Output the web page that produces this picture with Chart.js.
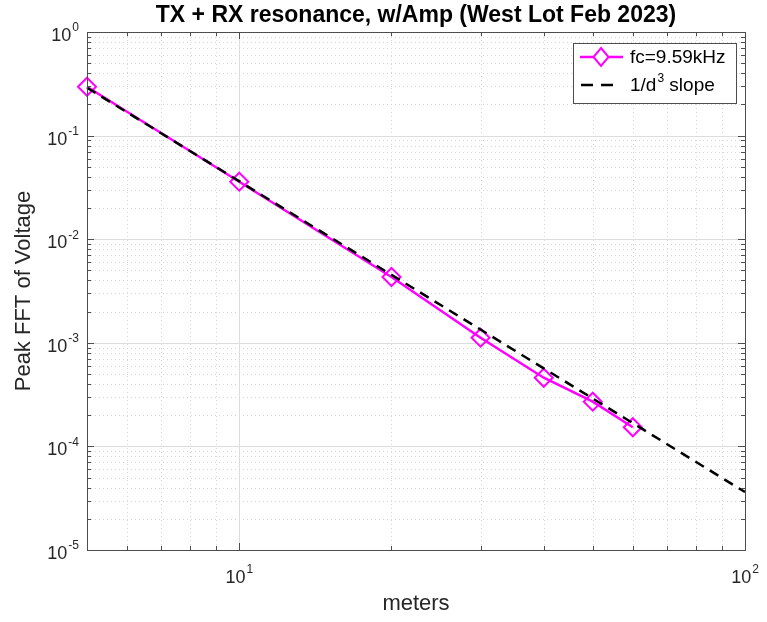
<!DOCTYPE html>
<html lang="en">
<head>
    <meta charset="UTF-8">
    <title>TX + RX resonance, w/Amp</title>
    <script src="https://cdn.jsdelivr.net/npm/chart.js"></script>
    <style>
        body {
            margin: 0;
            background: #ffffff;
        }
        #wrap {
            width: 767px;
            height: 622px;
        }
    </style>
</head>
<body>
    <div id="wrap"><canvas id="chart"></canvas></div>

    <script>
        // measured points (meters vs peak FFT)
        const distances = [5, 10, 20, 30, 40, 50, 60];
        const peakFft = [0.296, 0.0359, 0.00432, 0.00112, 0.00046, 0.00027, 0.000153];

        // reference 1/d^3 line, end points only
        const slopeX = [5, 100];
        const slopeY = [0.29, 3.625e-5];

        // decade tick labels (exponents of 10)
        const xTickExps = [1, 2];
        const yTickExps = [0, -1, -2, -3, -4, -5];

        const seriesLabel = 'fc=9.59kHz';
        const slopeLabel = ['1/d', '3', ' slope'];
        const titleText = 'TX + RX resonance, w/Amp (West Lot Feb 2023)';
        const xTitle = 'meters';
        const yTitle = 'Peak FFT of Voltage';

        const FONT = '"Liberation Sans", Arial, Helvetica, sans-serif';
        const MAGENTA = '#ff00ff';

        const toXY = (xs, ys) => xs.map((x, i) => ({ x: x, y: ys[i] }));

        // 1..9 x 10^n between lo and hi
        function logSteps(lo, hi) {
            const out = [];
            for (let e = Math.floor(Math.log10(lo)); e <= Math.ceil(Math.log10(hi)); e++) {
                for (let m = 1; m < 10; m++) {
                    const v = m * Math.pow(10, e);
                    if (v >= lo * 0.999 && v <= hi * 1.001) out.push({ v: v, major: m === 1 });
                }
            }
            return out;
        }

        function drawPow(ctx, exp, x, y, align) {
            const base = '10';
            const ex = String(exp);
            ctx.font = '18px ' + FONT;
            const w1 = ctx.measureText(base).width;
            ctx.font = '12px ' + FONT;
            const w2 = ctx.measureText(ex).width;
            let left;
            if (align === 'right') left = x - w1 - w2 - 1;
            else left = x - (w1 + w2 + 1) / 2;
            ctx.textAlign = 'left';
            ctx.textBaseline = 'middle';
            ctx.fillStyle = '#262626';
            ctx.font = '18px ' + FONT;
            ctx.fillText(base, left, y + 4);
            ctx.font = '12px ' + FONT;
            ctx.fillText(ex, left + w1 + 1, y - 4);
        }

        const matlabAxes = {
            id: 'matlabAxes',
            beforeDatasetsDraw(chart) {
                const { ctx, chartArea: a, scales } = chart;
                const xs = scales.x, ys = scales.y;
                ctx.save();
                ctx.lineWidth = 1;
                // minor grid first, dotted
                ctx.setLineDash([1, 3]);
                ctx.strokeStyle = '#d6d6d6';
                logSteps(xs.min, xs.max).filter(t => !t.major).forEach(t => {
                    const px = Math.round(xs.getPixelForValue(t.v)) + 0.5;
                    ctx.beginPath(); ctx.moveTo(px, a.top); ctx.lineTo(px, a.bottom); ctx.stroke();
                });
                logSteps(ys.min, ys.max).filter(t => !t.major).forEach(t => {
                    const py = Math.round(ys.getPixelForValue(t.v)) + 0.5;
                    ctx.beginPath(); ctx.moveTo(a.left, py); ctx.lineTo(a.right, py); ctx.stroke();
                });
                // major grid, solid
                ctx.setLineDash([]);
                ctx.strokeStyle = '#dcdcdc';
                logSteps(xs.min, xs.max).filter(t => t.major).forEach(t => {
                    const px = Math.round(xs.getPixelForValue(t.v)) + 0.5;
                    ctx.beginPath(); ctx.moveTo(px, a.top); ctx.lineTo(px, a.bottom); ctx.stroke();
                });
                logSteps(ys.min, ys.max).filter(t => t.major).forEach(t => {
                    const py = Math.round(ys.getPixelForValue(t.v)) + 0.5;
                    ctx.beginPath(); ctx.moveTo(a.left, py); ctx.lineTo(a.right, py); ctx.stroke();
                });
                ctx.restore();
            },
            afterDatasetsDraw(chart) {
                const { ctx, chartArea: a, scales } = chart;
                const xs = scales.x, ys = scales.y;
                ctx.save();
                ctx.strokeStyle = '#4d4d4d';
                ctx.lineWidth = 1;
                // inward tick marks on all four sides
                logSteps(xs.min, xs.max).forEach(t => {
                    const px = Math.round(xs.getPixelForValue(t.v)) + 0.5;
                    const len = t.major ? 7 : 4;
                    ctx.beginPath();
                    ctx.moveTo(px, a.bottom); ctx.lineTo(px, a.bottom - len);
                    ctx.moveTo(px, a.top); ctx.lineTo(px, a.top + len);
                    ctx.stroke();
                });
                logSteps(ys.min, ys.max).forEach(t => {
                    const py = Math.round(ys.getPixelForValue(t.v)) + 0.5;
                    const len = t.major ? 7 : 4;
                    ctx.beginPath();
                    ctx.moveTo(a.left, py); ctx.lineTo(a.left + len, py);
                    ctx.moveTo(a.right, py); ctx.lineTo(a.right - len, py);
                    ctx.stroke();
                });
                ctx.strokeRect(Math.round(a.left) + 0.5, Math.round(a.top) + 0.5,
                    Math.round(a.right - a.left), Math.round(a.bottom - a.top));
                ctx.restore();
            },
            afterDraw(chart) {
                const { ctx, chartArea: a, scales } = chart;
                const xs = scales.x, ys = scales.y;
                ctx.save();
                // tick labels
                xTickExps.forEach(e => drawPow(ctx, e, xs.getPixelForValue(Math.pow(10, e)), a.bottom + 24, 'center'));
                yTickExps.forEach(e => drawPow(ctx, e, a.left - 8, ys.getPixelForValue(Math.pow(10, e)), 'right'));

                // title and axis titles
                const cx = (a.left + a.right) / 2;
                ctx.fillStyle = '#000000';
                ctx.textAlign = 'center';
                ctx.textBaseline = 'middle';
                ctx.font = 'bold 23px ' + FONT;
                ctx.fillText(titleText, cx, 16);
                ctx.fillStyle = '#262626';
                ctx.font = '22px ' + FONT;
                ctx.fillText(xTitle, cx, 604);
                ctx.save();
                ctx.translate(24, (a.top + a.bottom) / 2);
                ctx.rotate(-Math.PI / 2);
                ctx.fillText(yTitle, 0, 0);
                ctx.restore();

                // legend box
                const lx = 573, ly = 43, lw = 163, lh = 60;
                ctx.fillStyle = '#ffffff';
                ctx.fillRect(lx, ly, lw, lh);
                ctx.strokeStyle = '#4d4d4d';
                ctx.lineWidth = 1;
                ctx.strokeRect(lx + 0.5, ly + 0.5, lw, lh);

                // entry 1
                ctx.strokeStyle = MAGENTA;
                ctx.lineWidth = 2.5;
                ctx.beginPath(); ctx.moveTo(580, 57); ctx.lineTo(623, 57); ctx.stroke();
                ctx.beginPath();
                ctx.moveTo(601, 48); ctx.lineTo(608.5, 57); ctx.lineTo(601, 66); ctx.lineTo(593.5, 57); ctx.closePath();
                ctx.fillStyle = '#ffffff';
                ctx.fill();
                ctx.lineWidth = 2;
                ctx.stroke();

                // entry 2
                ctx.strokeStyle = '#000000';
                ctx.lineWidth = 2.5;
                ctx.setLineDash([12, 8]);
                ctx.beginPath(); ctx.moveTo(581, 85); ctx.lineTo(616, 85); ctx.stroke();
                ctx.setLineDash([]);

                ctx.fillStyle = '#000000';
                ctx.textAlign = 'left';
                ctx.font = '19px ' + FONT;
                ctx.fillText(seriesLabel, 630, 58);
                let tx = 630;
                ctx.fillText(slopeLabel[0], tx, 86);
                tx += ctx.measureText(slopeLabel[0]).width + 1;
                ctx.font = '12px ' + FONT;
                ctx.fillText(slopeLabel[1], tx, 79);
                tx += ctx.measureText(slopeLabel[1]).width;
                ctx.font = '19px ' + FONT;
                ctx.fillText(slopeLabel[2], tx, 86);
                ctx.restore();
            }
        };

        new Chart(document.getElementById('chart'), {
            type: 'scatter',
            data: {
                datasets: [{
                    label: slopeLabel.join(''),
                    data: toXY(slopeX, slopeY),
                    showLine: true,
                    borderColor: '#000000',
                    borderWidth: 2.5,
                    borderDash: [10, 7],
                    pointRadius: 0,
                    clip: false,
                    order: 0,
                }, {
                    label: seriesLabel,
                    data: toXY(distances, peakFft),
                    showLine: true,
                    borderColor: MAGENTA,
                    borderWidth: 2.5,
                    pointStyle: 'rectRot',
                    pointRadius: 9,
                    pointBorderWidth: 2,
                    pointBorderColor: MAGENTA,
                    pointBackgroundColor: 'rgba(0,0,0,0)',
                    clip: false,
                    order: 1,
                }],
            },
            options: {
                responsive: true,
                maintainAspectRatio: false,
                animation: false,
                layout: { padding: { left: 0, right: 22, top: 32, bottom: 0 } },
                plugins: {
                    legend: { display: false },
                    title: { display: false },
                    tooltip: { enabled: false },
                },
                scales: {
                    x: {
                        type: 'logarithmic',
                        min: 5,
                        max: 100,
                        ticks: { display: false },
                        grid: { display: false },
                        border: { display: false },
                        afterFit: s => { s.height = 72; },
                    },
                    y: {
                        type: 'logarithmic',
                        min: 1e-5,
                        max: 1,
                        ticks: { display: false },
                        grid: { display: false },
                        border: { display: false },
                        afterFit: s => { s.width = 87; },
                    },
                },
            },
            plugins: [matlabAxes],
        });
    </script>
</body>
</html>
